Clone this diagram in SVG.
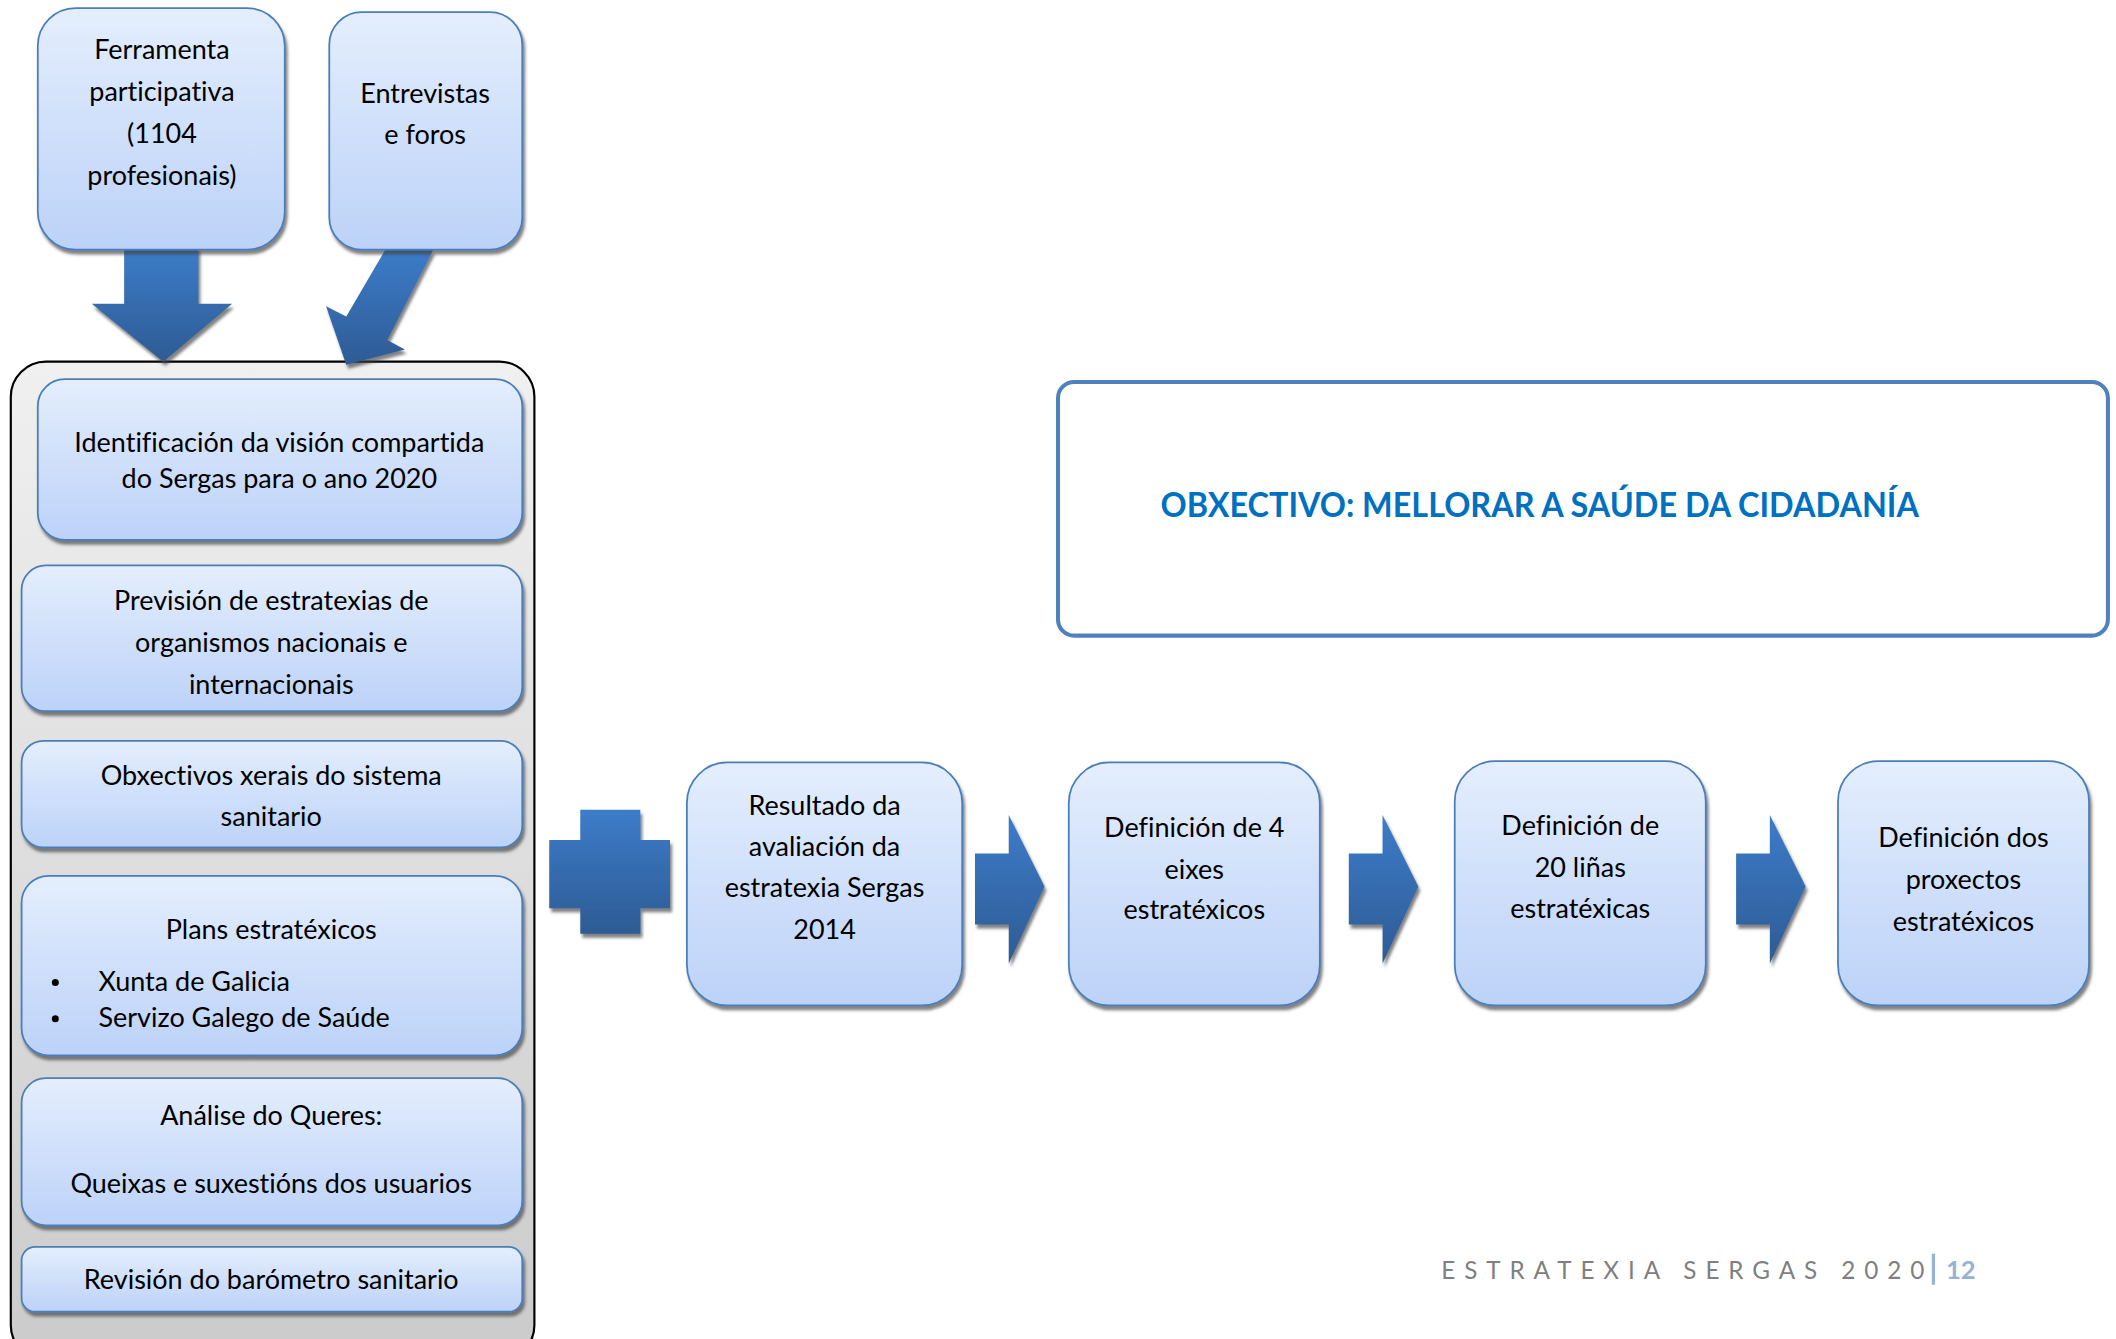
<svg xmlns="http://www.w3.org/2000/svg" width="2116" height="1339" viewBox="0 0 2116 1339">
<defs>
<linearGradient id="gBox" x1="0" y1="0" x2="0" y2="1">
<stop offset="0" stop-color="#e4eefd"/>
<stop offset="1" stop-color="#bcd2f8"/>
</linearGradient>
<linearGradient id="gCont" x1="0" y1="0" x2="0" y2="1">
<stop offset="0" stop-color="#f0f0f0"/>
<stop offset="1" stop-color="#cbcbcb"/>
</linearGradient>
<linearGradient id="gArrow" x1="0" y1="0" x2="0" y2="1">
<stop offset="0" stop-color="#3d7cc9"/>
<stop offset="1" stop-color="#2d5b94"/>
</linearGradient>
<filter id="sh" x="-10%" y="-10%" width="125%" height="130%">
<feDropShadow dx="1.5" dy="3" stdDeviation="1.2" flood-color="#404040" flood-opacity="0.65"/>
</filter>
<style>
text{font-variant-ligatures:none}
.box{fill:url(#gBox);stroke:#4a7ebb;stroke-width:1.3;filter:url(#sh)}
.arr{fill:url(#gArrow);filter:url(#sh)}
.t{font-family:Lato,"Open Sans","Liberation Sans",sans-serif;font-size:20px;fill:#000;text-anchor:middle}
.tl{font-family:Lato,"Open Sans","Liberation Sans",sans-serif;font-size:20px;fill:#000}
</style>
</defs>
<rect width="2116" height="1339" fill="#fff"/>
<g transform="scale(1.349489)">
<g id="container">
<rect x="8" y="268" width="388" height="740" rx="26" fill="url(#gCont)" stroke="#000" stroke-width="1.6"/>
</g>
<g id="connectors">
<polygon class="arr" points="92,183 147,183 147,225 172,225 121,268 68,225 92,225"/>
<polygon class="arr" points="285.5,185 321,185 287,252 300,259 256.6,270.3 241.6,227 256.6,234.6"/>
<path class="arr" d="M407,622.5 H430 V600 H474.5 V622.5 H496.5 V673 H474.5 V692 H430 V673 H407 Z"/>
<polygon class="arr" points="722.5,632.5 747.5,632.5 747.5,604 774,657 747.5,714 747.5,685 722.5,685"/>
<polygon class="arr" points="999.5,632.5 1024.5,632.5 1024.5,604 1051,657 1024.5,714 1024.5,685 999.5,685"/>
<polygon class="arr" points="1286.5,632.5 1311.5,632.5 1311.5,604 1338,657 1311.5,714 1311.5,685 1286.5,685"/>
</g>
<g id="n-ferramenta">
<rect class="box" x="28" y="6" width="183" height="179" rx="28"/>
<text class="t" x="120" y="44">Ferramenta</text>
<text class="t" x="120" y="75">participativa</text>
<text class="t" x="120" y="106">(1104</text>
<text class="t" x="120" y="137">profesionais)</text>
</g>
<g id="n-entrevistas">
<rect class="box" x="244" y="9" width="143" height="176" rx="24"/>
<text class="t" x="315" y="76">Entrevistas</text>
<text class="t" x="315" y="107">e foros</text>
</g>
<g id="n-identificacion">
<rect class="box" x="28" y="281" width="359" height="119" rx="20"/>
<text class="t" x="207" y="335">Identificación da visión compartida</text>
<text class="t" x="207" y="362">do Sergas para o ano 2020</text>
</g>
<g id="n-prevision">
<rect class="box" x="16" y="419" width="371" height="108" rx="18"/>
<text class="t" x="201" y="452">Previsión de estratexias de</text>
<text class="t" x="201" y="483">organismos nacionais e</text>
<text class="t" x="201" y="514">internacionais</text>
</g>
<g id="n-obxectivos">
<rect class="box" x="16" y="549" width="371" height="79" rx="16"/>
<text class="t" x="201" y="582">Obxectivos xerais do sistema</text>
<text class="t" x="201" y="612">sanitario</text>
</g>
<g id="n-plans">
<rect class="box" x="16" y="649" width="371" height="133" rx="20"/>
<text class="t" x="201" y="696">Plans estratéxicos</text>
<circle cx="41" cy="728" r="2.6" fill="#000"/>
<circle cx="41" cy="755" r="2.6" fill="#000"/>
<text class="tl" x="73" y="734">Xunta de Galicia</text>
<text class="tl" x="73" y="761">Servizo Galego de Saúde</text>
</g>
<g id="n-analise">
<rect class="box" x="16" y="799" width="371" height="109" rx="18"/>
<text class="t" x="201" y="834">Análise do Queres:</text>
<text class="t" x="201" y="884">Queixas e suxestións dos usuarios</text>
</g>
<g id="n-barometro">
<rect class="box" x="16" y="924" width="371" height="48" rx="10"/>
<text class="t" x="201" y="955">Revisión do barómetro sanitario</text>
</g>
<g id="n-resultado">
<rect class="box" x="509" y="565" width="204" height="180" rx="30"/>
<text class="t" x="611" y="604">Resultado da</text>
<text class="t" x="611" y="634">avaliación da</text>
<text class="t" x="611" y="665">estratexia Sergas</text>
<text class="t" x="611" y="696">2014</text>
</g>
<g id="n-eixes">
<rect class="box" x="792" y="565" width="186" height="180" rx="30"/>
<text class="t" x="885" y="620">Definición de 4</text>
<text class="t" x="885" y="651">eixes</text>
<text class="t" x="885" y="681">estratéxicos</text>
</g>
<g id="n-linas">
<rect class="box" x="1078" y="564" width="186" height="181" rx="30"/>
<text class="t" x="1171" y="619">Definición de</text>
<text class="t" x="1171" y="650">20 liñas</text>
<text class="t" x="1171" y="680">estratéxicas</text>
</g>
<g id="n-proxectos">
<rect class="box" x="1362" y="564" width="186" height="181" rx="30"/>
<text class="t" x="1455" y="628">Definición dos</text>
<text class="t" x="1455" y="659">proxectos</text>
<text class="t" x="1455" y="690">estratéxicos</text>
</g>
<g id="n-obxectivo">
<rect x="784" y="283" width="778" height="188" rx="12" fill="#fff" stroke="#4f81bd" stroke-width="3"/>
<text x="860" y="383" font-family="Lato,'Open Sans','Liberation Sans',sans-serif" font-weight="bold" font-size="26" fill="#0070c0" textLength="562" lengthAdjust="spacingAndGlyphs">OBXECTIVO: MELLORAR A SAÚDE DA CIDADANÍA</text>
</g>
<g id="footer">
<text x="1068" y="948" font-family="Lato,'Open Sans','Liberation Sans',sans-serif" font-size="18" fill="#7f7f7f" textLength="358" lengthAdjust="spacing">ESTRATEXIA SERGAS 2020</text>
<rect x="1431.5" y="929" width="2.4" height="23" fill="#95b3d7"/>
<text x="1442" y="948" font-family="Lato,'Open Sans','Liberation Sans',sans-serif" font-weight="bold" font-size="19" fill="#95b3d7">12</text>
</g>
</g>
</svg>
